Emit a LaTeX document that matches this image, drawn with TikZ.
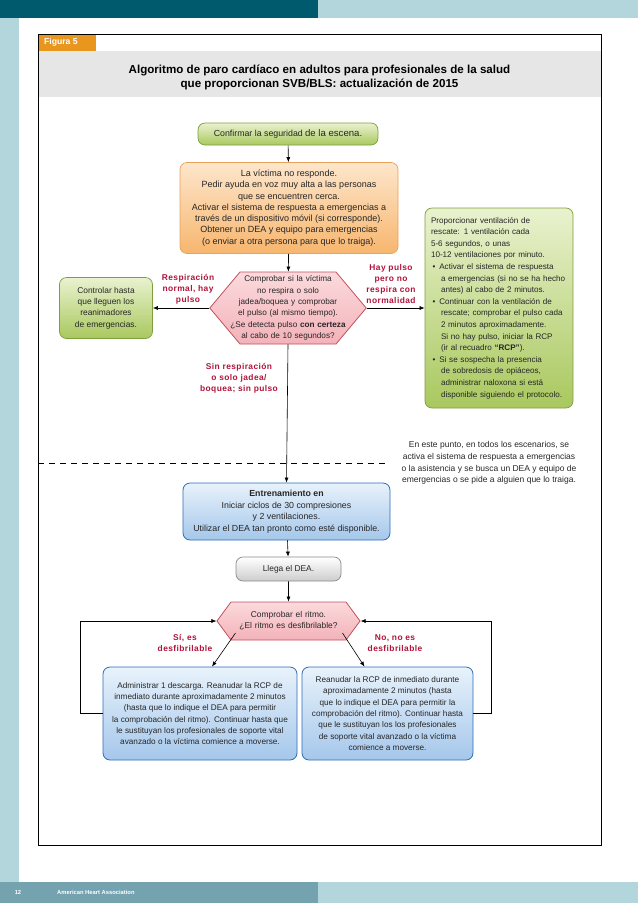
\documentclass[tikz,border=0pt]{standalone}
\usepackage{fontspec}
\setmainfont{Liberation Sans}
\newfontfamily\labelfont[LetterSpace=5]{Liberation Sans}
\usetikzlibrary{arrows.meta,shapes.symbols}
\definecolor{bandteal}{HTML}{005A6E}
\definecolor{bandlight}{HTML}{B3D6DD}
\definecolor{footteal}{HTML}{74A2AF}
\definecolor{titlegray}{HTML}{E6E6E7}
\definecolor{figorange}{HTML}{E8961E}
\definecolor{txtgray}{HTML}{262626}
\definecolor{labelred}{HTML}{B0133A}
\definecolor{greenline}{HTML}{7F9F3C}
\definecolor{greentop}{HTML}{E9F2CF}
\definecolor{greenbot}{HTML}{A9C85E}
\definecolor{orangeline}{HTML}{E9A25A}
\definecolor{orangetop}{HTML}{FDE6CC}
\definecolor{orangebot}{HTML}{F7B66E}
\definecolor{blueline}{HTML}{2D6DB4}
\definecolor{bluetop}{HTML}{E8F2FB}
\definecolor{bluebot}{HTML}{A5C7EB}
\definecolor{grayline}{HTML}{8A8A8A}
\definecolor{graybot}{HTML}{CDCDCD}
\definecolor{pinkline}{HTML}{C4505C}
\definecolor{pinktop}{HTML}{FBDADD}
\definecolor{pinkbot}{HTML}{F3B2B9}
\begin{document}
\begin{tikzpicture}[x=1pt,y=-1pt,
  every node/.style={font=\fontsize{8.2}{11.3}\selectfont,text=txtgray,align=center,inner sep=2pt},
  boxgreen/.style={draw=greenline,line width=0.7pt,rounded corners=7pt,top color=greentop,bottom color=greenbot},
  boxorange/.style={draw=orangeline,line width=0.7pt,rounded corners=7pt,top color=orangetop,bottom color=orangebot},
  boxblue/.style={draw=blueline,line width=0.8pt,rounded corners=7pt,top color=bluetop,bottom color=bluebot},
  boxgray/.style={draw=grayline,line width=0.7pt,rounded corners=7pt,top color=white,bottom color=graybot},
  hexa/.style={signal,signal to=east and west,draw=pinkline,line width=0.8pt,top color=pinktop,bottom color=pinkbot,inner ysep=1pt},
  redlabel/.style={text=labelred,font=\labelfont\fontsize{8.4}{10.8}\selectfont\bfseries},
  arr/.style={-{Latex[length=5pt,width=4pt]},line width=0.6pt,black},
]
\useasboundingbox (0,0) rectangle (638,903);

% page bands
\fill[bandteal] (0,0) rectangle (318,18);
\fill[bandlight] (318,0) rectangle (638,18);
\fill[bandlight] (0,18) rectangle (19,882);
\fill[footteal] (0,882) rectangle (318,903);
\fill[bandlight] (318,882) rectangle (638,903);
\node[text=white,font=\fontsize{5.8}{6}\selectfont\bfseries] (pgnum) at (18,892) {12};
\node[text=white,font=\fontsize{5.8}{6}\selectfont\bfseries,anchor=west,inner sep=0pt] (aha) at (57,892) {American Heart Association};

% frame and title
\fill[titlegray] (38,51) rectangle (601,97);
\fill[figorange] (38,34) rectangle (96,51);
\node[text=white,font=\fontsize{8.6}{9}\selectfont\bfseries,anchor=west] (fig) at (42,42.5) {Figura 5};
\draw[line width=1pt] (38,34) rectangle (601,845);
\node[text=black,font=\fontsize{11.6}{13.5}\selectfont\bfseries] (title) at (319.5,77.5)
  {Algoritmo de paro cardíaco en adultos para profesionales de la salud\\que proporcionan SVB/BLS: actualización de 2015};

% boxes
\node[boxgreen,minimum width=180,minimum height=22] (conf) at (288,134)
  {{\fontsize{8.8}{10}\selectfont Confirmar la seguridad} {\fontsize{9.6}{10}\selectfont de la escena.}};
\node[boxorange,font=\fontsize{9}{11.3}\selectfont,minimum width=218,minimum height=91] (vict) at (289,208)
  {La víctima no responde.\\Pedir ayuda en voz muy alta a las personas\\que se encuentren cerca.\\Activar el sistema de respuesta a emergencias a\\través de un dispositivo móvil (si corresponde).\\Obtener un DEA y equipo para emergencias\\(o enviar a otra persona para que lo traiga).};
\node[hexa,font=\fontsize{8.2}{11.3}\selectfont,text width=122,inner xsep=-13pt,minimum height=72,signal pointer angle=100] (chk) at (288,308)
  {Comprobar si la víctima\\no respira o solo\\jadea/boquea y comprobar\\el pulso (al mismo tiempo).\\¿Se detecta pulso \textbf{con certeza}\\al cabo de 10 segundos?};
\node[boxgreen,font=\fontsize{8.4}{11.3}\selectfont,minimum width=93,minimum height=61] (ctrl) at (106,308)
  {Controlar hasta\\que lleguen los\\reanimadores\\de emergencias.};
\node[boxgreen,font=\fontsize{8.1}{11.6}\selectfont,text width=136,inner xsep=6pt,minimum height=200,align=left] (vent) at (499,308)
  {Proporcionar ventilación de\\rescate: 1 ventilación cada\\5-6 segundos, o unas\\10-12 ventilaciones por minuto.\\
   \hspace*{1.5pt}\textbullet\hspace{4pt}Activar el sistema de respuesta\\\hspace*{10pt}a emergencias (si no se ha hecho\\\hspace*{10pt}antes) al cabo de 2 minutos.\\
   \hspace*{1.5pt}\textbullet\hspace{4pt}Continuar con la ventilación de\\\hspace*{10pt}rescate; comprobar el pulso cada\\\hspace*{10pt}2 minutos aproximadamente.\\\hspace*{10pt}Si no hay pulso, iniciar la RCP\\\hspace*{10pt}(ir al recuadro \textbf{“RCP”}).\\
   \hspace*{1.5pt}\textbullet\hspace{4pt}Si se sospecha la presencia\\\hspace*{10pt}de sobredosis de opiáceos,\\\hspace*{10pt}administrar naloxona si está\\\hspace*{10pt}disponible siguiendo el protocolo.};
\node[boxblue,font=\fontsize{8.8}{11.5}\selectfont,minimum width=207,minimum height=57] (rcp) at (286.5,511.5)
  {\textbf{Entrenamiento en}\\Iniciar ciclos de 30 compresiones\\y 2 ventilaciones.\\Utilizar el DEA tan pronto como esté disponible.};
\node[boxgray,font=\fontsize{8.4}{10}\selectfont,minimum width=105,minimum height=24] (dea) at (288.5,569) {Llega el DEA.};
\node[hexa,font=\fontsize{8.4}{11.3}\selectfont,text width=115,inner xsep=0pt,minimum height=38,signal pointer angle=107] (rit) at (288.5,621)
  {Comprobar el ritmo.\\¿El ritmo es desfibrilable?};
\node[boxblue,minimum width=194,minimum height=93] (desc) at (200,713.5)
  {Administrar 1 descarga. Reanudar la RCP de\\inmediato durante aproximadamente 2 minutos\\(hasta que lo indique el DEA para permitir\\la comprobación del ritmo). Continuar hasta que\\le sustituyan los profesionales de soporte vital\\avanzado o la víctima comience a moverse.};
\node[boxblue,minimum width=171,minimum height=93] (norcp) at (387.5,713.5)
  {Reanudar la RCP de inmediato durante\\aproximadamente 2 minutos (hasta\\que lo indique el DEA para permitir la\\comprobación del ritmo). Continuar hasta\\que le sustituyan los los profesionales\\de soporte vital avanzado o la víctima\\comience a moverse.};

% labels
\node[redlabel] (lbresp) at (188,289) {Respiración\\normal, hay\\pulso};
\node[redlabel] (lbhay) at (391,284) {Hay pulso\\pero no\\respira con\\normalidad};
\node[redlabel] (lbsin) at (239,378) {Sin respiración\\o solo jadea/\\boquea; sin pulso};
\node[redlabel] (lbsi) at (185,643) {Sí, es\\desfibrilable};
\node[redlabel] (lbno) at (395,643) {No, no es\\desfibrilable};
\node[font=\fontsize{8.5}{11.6}\selectfont] (nota) at (489,463)
  {En este punto, en todos los escenarios, se\\activa el sistema de respuesta a emergencias\\o la asistencia y se busca un DEA y equipo de\\emergencias o se pide a alguien que lo traiga.};

% connectors
\draw[dashed,dash pattern=on 6pt off 5pt,line width=0.6pt] (38,463) -- (388,463);
\draw[arr] (conf) -- (vict);
\draw[arr] (vict) -- (chk);
\draw[arr] (chk.west) -- (ctrl.east);
\draw[arr] (chk.east) -- (vent.west);
\draw[arr] (chk.south) -- (rcp.north);
\draw[arr] (rcp) -- (dea);
\draw[arr] (dea) -- (rit);
\draw[arr] ([shift={(-53,12)}]rit.center) -- ([xshift=12]desc.north);
\draw[arr] ([shift={(54,12)}]rit.center) -- ([xshift=-23]norcp.north);
\draw[arr] (desc.west) -- ++(-22,0) |- (rit.west);
\draw[arr] (norcp.east) -- ++(18,0) |- (rit.east);
\end{tikzpicture}
\end{document}
